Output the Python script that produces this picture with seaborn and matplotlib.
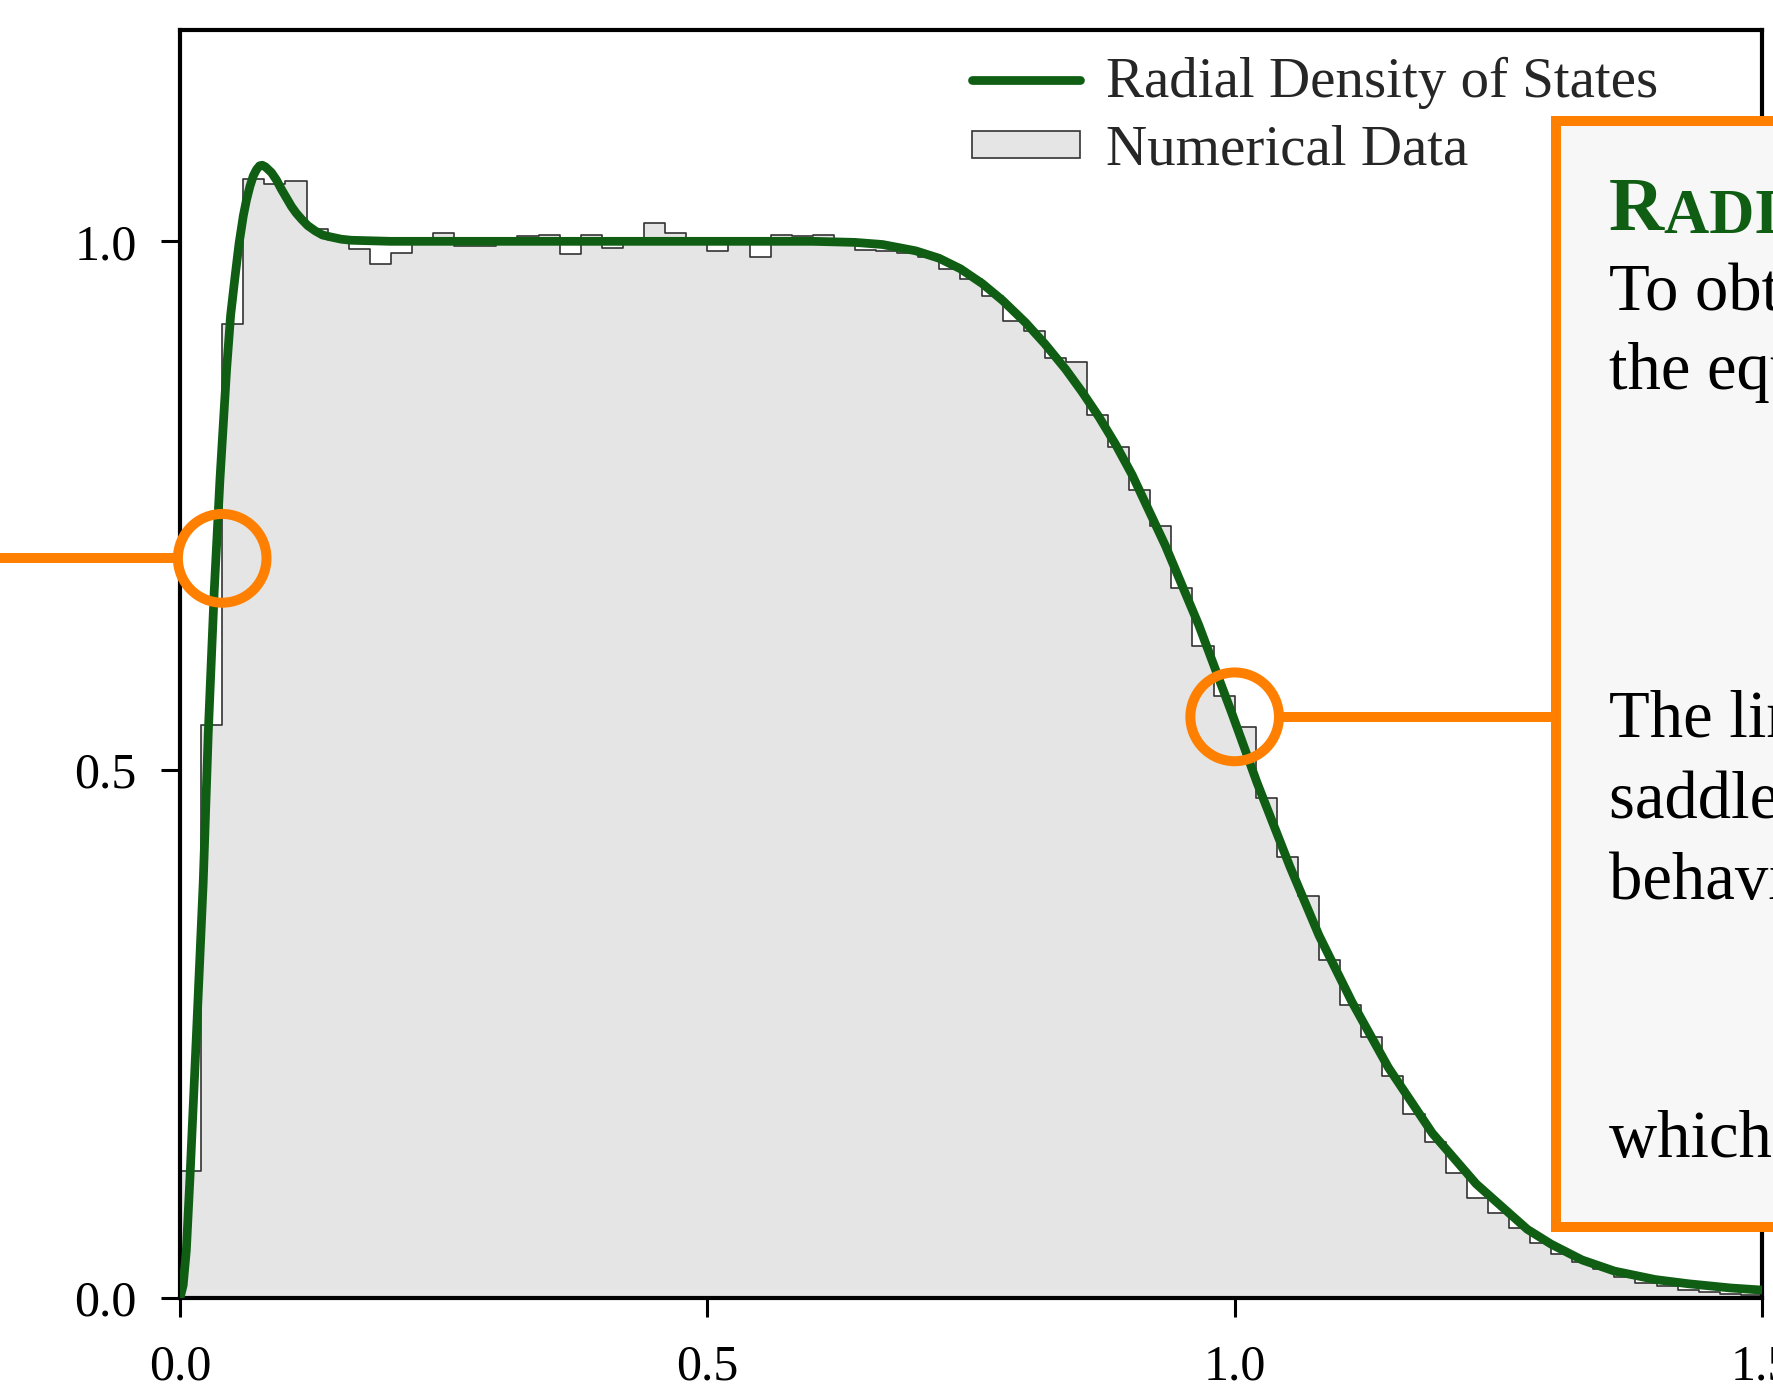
import matplotlib
matplotlib.use("Agg")
import matplotlib.pyplot as plt
from matplotlib.lines import Line2D
from matplotlib.patches import Patch, Rectangle, Circle
import pandas as pd
import seaborn as sns

# numerical data: histogram heights, bins of width 0.02 on [0, 1.5]
bin_edges = [round(0.02 * i, 2) for i in range(76)]
hist_heights = [
    0.120, 0.542, 0.922, 1.059, 1.054, 1.057, 1.012, 1.001, 0.993, 0.979,
    0.989, 1.003, 1.008, 0.996, 0.996, 1.000, 1.005, 1.006, 0.988, 1.006,
    0.994, 1.000, 1.017, 1.008, 0.999, 0.991, 1.003, 0.985, 1.006, 1.005,
    1.006, 1.000, 0.992, 0.991, 0.989, 0.985, 0.974, 0.964, 0.948, 0.925,
    0.915, 0.890, 0.886, 0.836, 0.805, 0.765, 0.731, 0.672, 0.617, 0.570,
    0.540, 0.473, 0.417, 0.380, 0.320, 0.277, 0.247, 0.210, 0.174, 0.148,
    0.118, 0.095, 0.080, 0.066, 0.052, 0.042, 0.034, 0.027, 0.020, 0.014,
    0.011, 0.008, 0.006, 0.004, 0.003,
]
bin_centers = [(a + b) / 2 for a, b in zip(bin_edges[:-1], bin_edges[1:])]

# radial density of states curve
curve_x = [0.0, 0.003, 0.006, 0.0095, 0.0158, 0.022, 0.0268, 0.0325, 0.0379,
           0.0442, 0.048, 0.052, 0.056, 0.060, 0.063, 0.0663, 0.0695, 0.0726,
           0.0755, 0.078, 0.081, 0.0868, 0.0915, 0.0963, 0.101, 0.1057, 0.110,
           0.1152, 0.121, 0.128, 0.135, 0.1436, 0.153, 0.1626, 0.20, 0.30,
           0.40, 0.50, 0.60, 0.64, 0.666, 0.682, 0.6976, 0.7197, 0.74, 0.7607,
           0.78, 0.8018, 0.82, 0.8397, 0.855, 0.8712, 0.887, 0.9028, 0.9343,
           0.9659, 0.9975, 1.0211, 1.0525, 1.080, 1.1113, 1.1458, 1.1874,
           1.229, 1.2775, 1.30, 1.3294, 1.36, 1.3986, 1.43, 1.47, 1.5]
curve_y = [0.0, 0.012, 0.045, 0.115, 0.254, 0.393, 0.535, 0.670, 0.775,
           0.879, 0.930, 0.965, 0.998, 1.024, 1.039, 1.052, 1.062, 1.068,
           1.0715, 1.072, 1.0705, 1.065, 1.058, 1.049, 1.041, 1.033, 1.027,
           1.021, 1.015, 1.010, 1.006, 1.004, 1.002, 1.001, 1.000, 1.000,
           1.000, 1.000, 1.000, 0.999, 0.997, 0.994, 0.991, 0.984, 0.974, 0.960,
           0.944, 0.923, 0.903, 0.879, 0.858, 0.834, 0.808, 0.779, 0.712,
           0.637, 0.553, 0.488, 0.408, 0.343, 0.280, 0.218, 0.156,
           0.108, 0.065, 0.051, 0.036, 0.0255, 0.0175, 0.0135, 0.0095, 0.0075]

# highlighted points
callout_x = [0.04, 1.0]
callout_y = [0.70, 0.55]

xticks = [0.0, 0.5, 1.0, 1.5]
yticks = [0.0, 0.5, 1.0]

GREEN = "#105e14"
ORANGE = "#ff8000"
HIST_FILL = "#e5e5e5"
HIST_EDGE = "#333333"
BOX_FILL = "#f7f7f7"

sns.set_theme(style="ticks")
plt.rcParams["font.family"] = ["Liberation Serif", "DejaVu Serif"]

fig = plt.figure(figsize=(17.73, 13.88), dpi=100)
ax = fig.add_axes([180 / 1773, 90 / 1388, 1582 / 1773, 1268 / 1388])

hist_df = pd.DataFrame({"r": bin_centers, "count": hist_heights})
sns.histplot(data=hist_df, x="r", weights="count", bins=bin_edges,
             element="step", fill=True, color=HIST_FILL, alpha=1,
             edgecolor=HIST_EDGE, linewidth=1.2, ax=ax)
sns.lineplot(x=curve_x, y=curve_y, color=GREEN, linewidth=6.3, ax=ax,
             zorder=3)

ax.set_xlim(0, 1.5)
ax.set_ylim(0, 1.2)
ax.set_xticks(xticks)
ax.set_xticklabels([f"{t:.1f}" for t in xticks])
ax.set_yticks(yticks)
ax.set_yticklabels([f"{t:.1f}" for t in yticks])
ax.set_xlabel("")
ax.set_ylabel("")
for s in ax.spines.values():
    s.set_linewidth(3)
    s.set_color("black")
ax.tick_params(axis="both", length=14, width=2.2, labelsize=36,
               color="black", labelcolor="black")
ax.tick_params(axis="x", pad=19)
ax.tick_params(axis="y", pad=17)

# callout circles and connectors
r = 0.042
for cx, cy in zip(callout_x, callout_y):
    ax.add_patch(Circle((cx, cy), r, fill=False, edgecolor=ORANGE,
                        linewidth=7.2, zorder=4, clip_on=False))
ax.plot([-0.25, callout_x[0] - r], [callout_y[0], callout_y[0]],
        color=ORANGE, lw=7.2, clip_on=False, zorder=4,
        solid_capstyle="butt")
box_left, box_bottom, box_top = 1.305, 0.0672, 1.1136
ax.plot([callout_x[1] + r, box_left], [callout_y[1], callout_y[1]],
        color=ORANGE, lw=7.2, clip_on=False, zorder=4,
        solid_capstyle="butt")

# info box (runs off the right edge of the figure)
ax.add_patch(Rectangle((box_left, box_bottom), 1.0, box_top - box_bottom,
                       facecolor=BOX_FILL, edgecolor=ORANGE, linewidth=7.2,
                       clip_on=False, zorder=5))
tx = 1.355
cap = ax.text(tx, 1.0104, "R", fontsize=55, fontweight="bold", color=GREEN,
              va="baseline", ha="left", zorder=6)
ax.annotate("ADIAL DOS", xy=(1, 0), xycoords=cap,
            fontsize=45, fontweight="bold", color=GREEN,
            va="bottom", ha="left", zorder=6)
body = [
    (0.9347, "To obtain the radial DOS we integrate"),
    (0.8598, "the equation over the angle,"),
    (0.5312, "The limit near the band edge"),
    (0.4545, "saddle point gives the"),
    (0.3778, "behaviour of the density,"),
    (0.1335, "which matches the data."),
]
for y, s in body:
    ax.text(tx, y, s, fontsize=48, color="black", va="baseline",
            ha="left", zorder=6)

handles = [Line2D([], [], color=GREEN, lw=6.3),
           Patch(facecolor=HIST_FILL, edgecolor=HIST_EDGE, linewidth=1.2)]
ax.legend(handles, ["Radial Density of States", "Numerical Data"],
          loc="upper left", bbox_to_anchor=((972 - 180) / 1582, 1 - 27 / 1268),
          frameon=False, fontsize=41, handlelength=1.9, handleheight=0.35,
          handletextpad=0.45, labelspacing=0.27, borderpad=0,
          borderaxespad=0)

fig.savefig("out.png", dpi=100)
plt.close(fig)
